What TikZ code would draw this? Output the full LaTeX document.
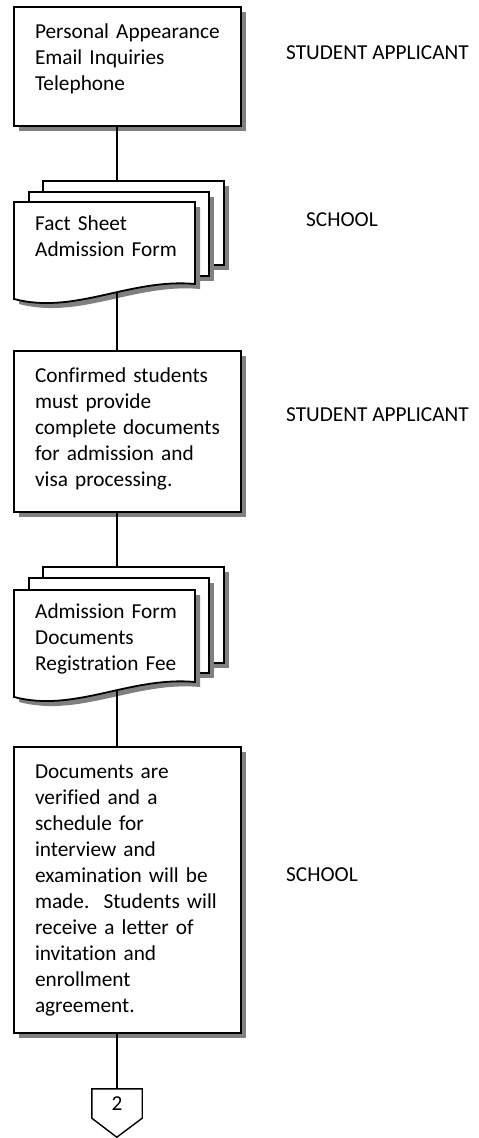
\documentclass[tikz,border=0pt]{standalone}
\usepackage{fontspec}
\setmainfont{Carlito}[Ligatures=NoCommon]
\usetikzlibrary{shadows}
\newcommand\flowfont{\fontsize{21.3}{26}\selectfont}
\tikzset{
  dropshade/.style={drop shadow={shadow xshift=5pt, shadow yshift=-5pt, fill=black!50, opacity=1}},
  procbox/.style={draw, line width=1.8pt, fill=white, dropshade, anchor=north west,
    outer sep=0pt, inner xsep=21pt, inner ysep=0pt, text width=185pt, align=left, text height=31pt},
  docpage/.style={draw, line width=1.8pt, fill=white, dropshade, anchor=north west, outer sep=0pt, inner sep=0pt},
  docline/.style={draw, line width=1.8pt, fill=white, dropshade},
  doctext/.style={anchor=north west, inner xsep=21pt, inner ysep=0pt, text width=160pt, align=left, text height=28pt},
  lane/.style={anchor=base west, inner sep=0pt}
}
\begin{document}
\begin{tikzpicture}[x=1pt, y=-1pt, font=\flowfont]
      \useasboundingbox (0,0) rectangle (479,1138);
      \node[procbox, text depth=88pt] (0) at (14,7)
        {Personal Appearance\\Email Inquiries\\Telephone};
      % first stack of documents
      \node[docpage, minimum width=181pt, minimum height=84pt] (1b) at (43,181) {};
      \node[docpage, minimum width=180pt, minimum height=84pt] (1m) at (29,192) {};
      \path[docline] (14,202) -- (195,202) -- (195,284)
        .. controls (130,278) and (75,315) .. (14,299) coordinate[pos=0.42] (1w) -- cycle;
      \node[doctext] (1) at (14,202) {Fact Sheet\\Admission Form};
      \node[procbox, text depth=130pt] (2) at (14,351)
        {Confirmed students\\must provide\\complete documents\\for admission and\\visa processing.};
      % second stack of documents
      \node[docpage, minimum width=181pt, minimum height=96pt] (3b) at (43,567) {};
      \node[docpage, minimum width=180pt, minimum height=95pt] (3m) at (29,578) {};
      \path[docline] (14,590) -- (195,590) -- (195,682)
        .. controls (130,676) and (75,713) .. (14,697) coordinate[pos=0.42] (3w) -- cycle;
      \node[doctext] (3) at (14,590) {Admission Form\\Documents\\Registration Fee};
      \node[procbox, text depth=255pt] (4) at (14,747)
        {Documents are\\verified and a\\schedule for\\interview and\\examination will be\\
         made.\ \ Students will\\receive a letter of\\invitation and\\enrollment\\agreement.};
      % off-page connector
      \node[minimum width=50pt, minimum height=29pt, inner sep=0pt] (5) at (117,1103.5) {2};
      \draw[line width=1.4pt] (5.north west) -- (5.south west) -- ++(25,19)
        -- (5.south east) -- (5.north east) -- cycle;
      % who does it
      \node[lane] (0l) at (286,59.5) {STUDENT APPLICANT};
      \node[lane] (1l) at (306,226) {SCHOOL};
      \node[lane] (2l) at (286,421) {STUDENT APPLICANT};
      \node[lane] (4l) at (286,881) {SCHOOL};
      \begin{scope}[line width=1.4pt]
        \draw (0.south -| 5) to (1b.north -| 5);
        \draw (1w -| 5) to (2.north -| 5);
        \draw (2.south -| 5) to (3b.north -| 5);
        \draw (3w -| 5) to (4.north -| 5);
        \draw (4.south -| 5) to (5.north);
      \end{scope}
    \end{tikzpicture}
\end{document}
